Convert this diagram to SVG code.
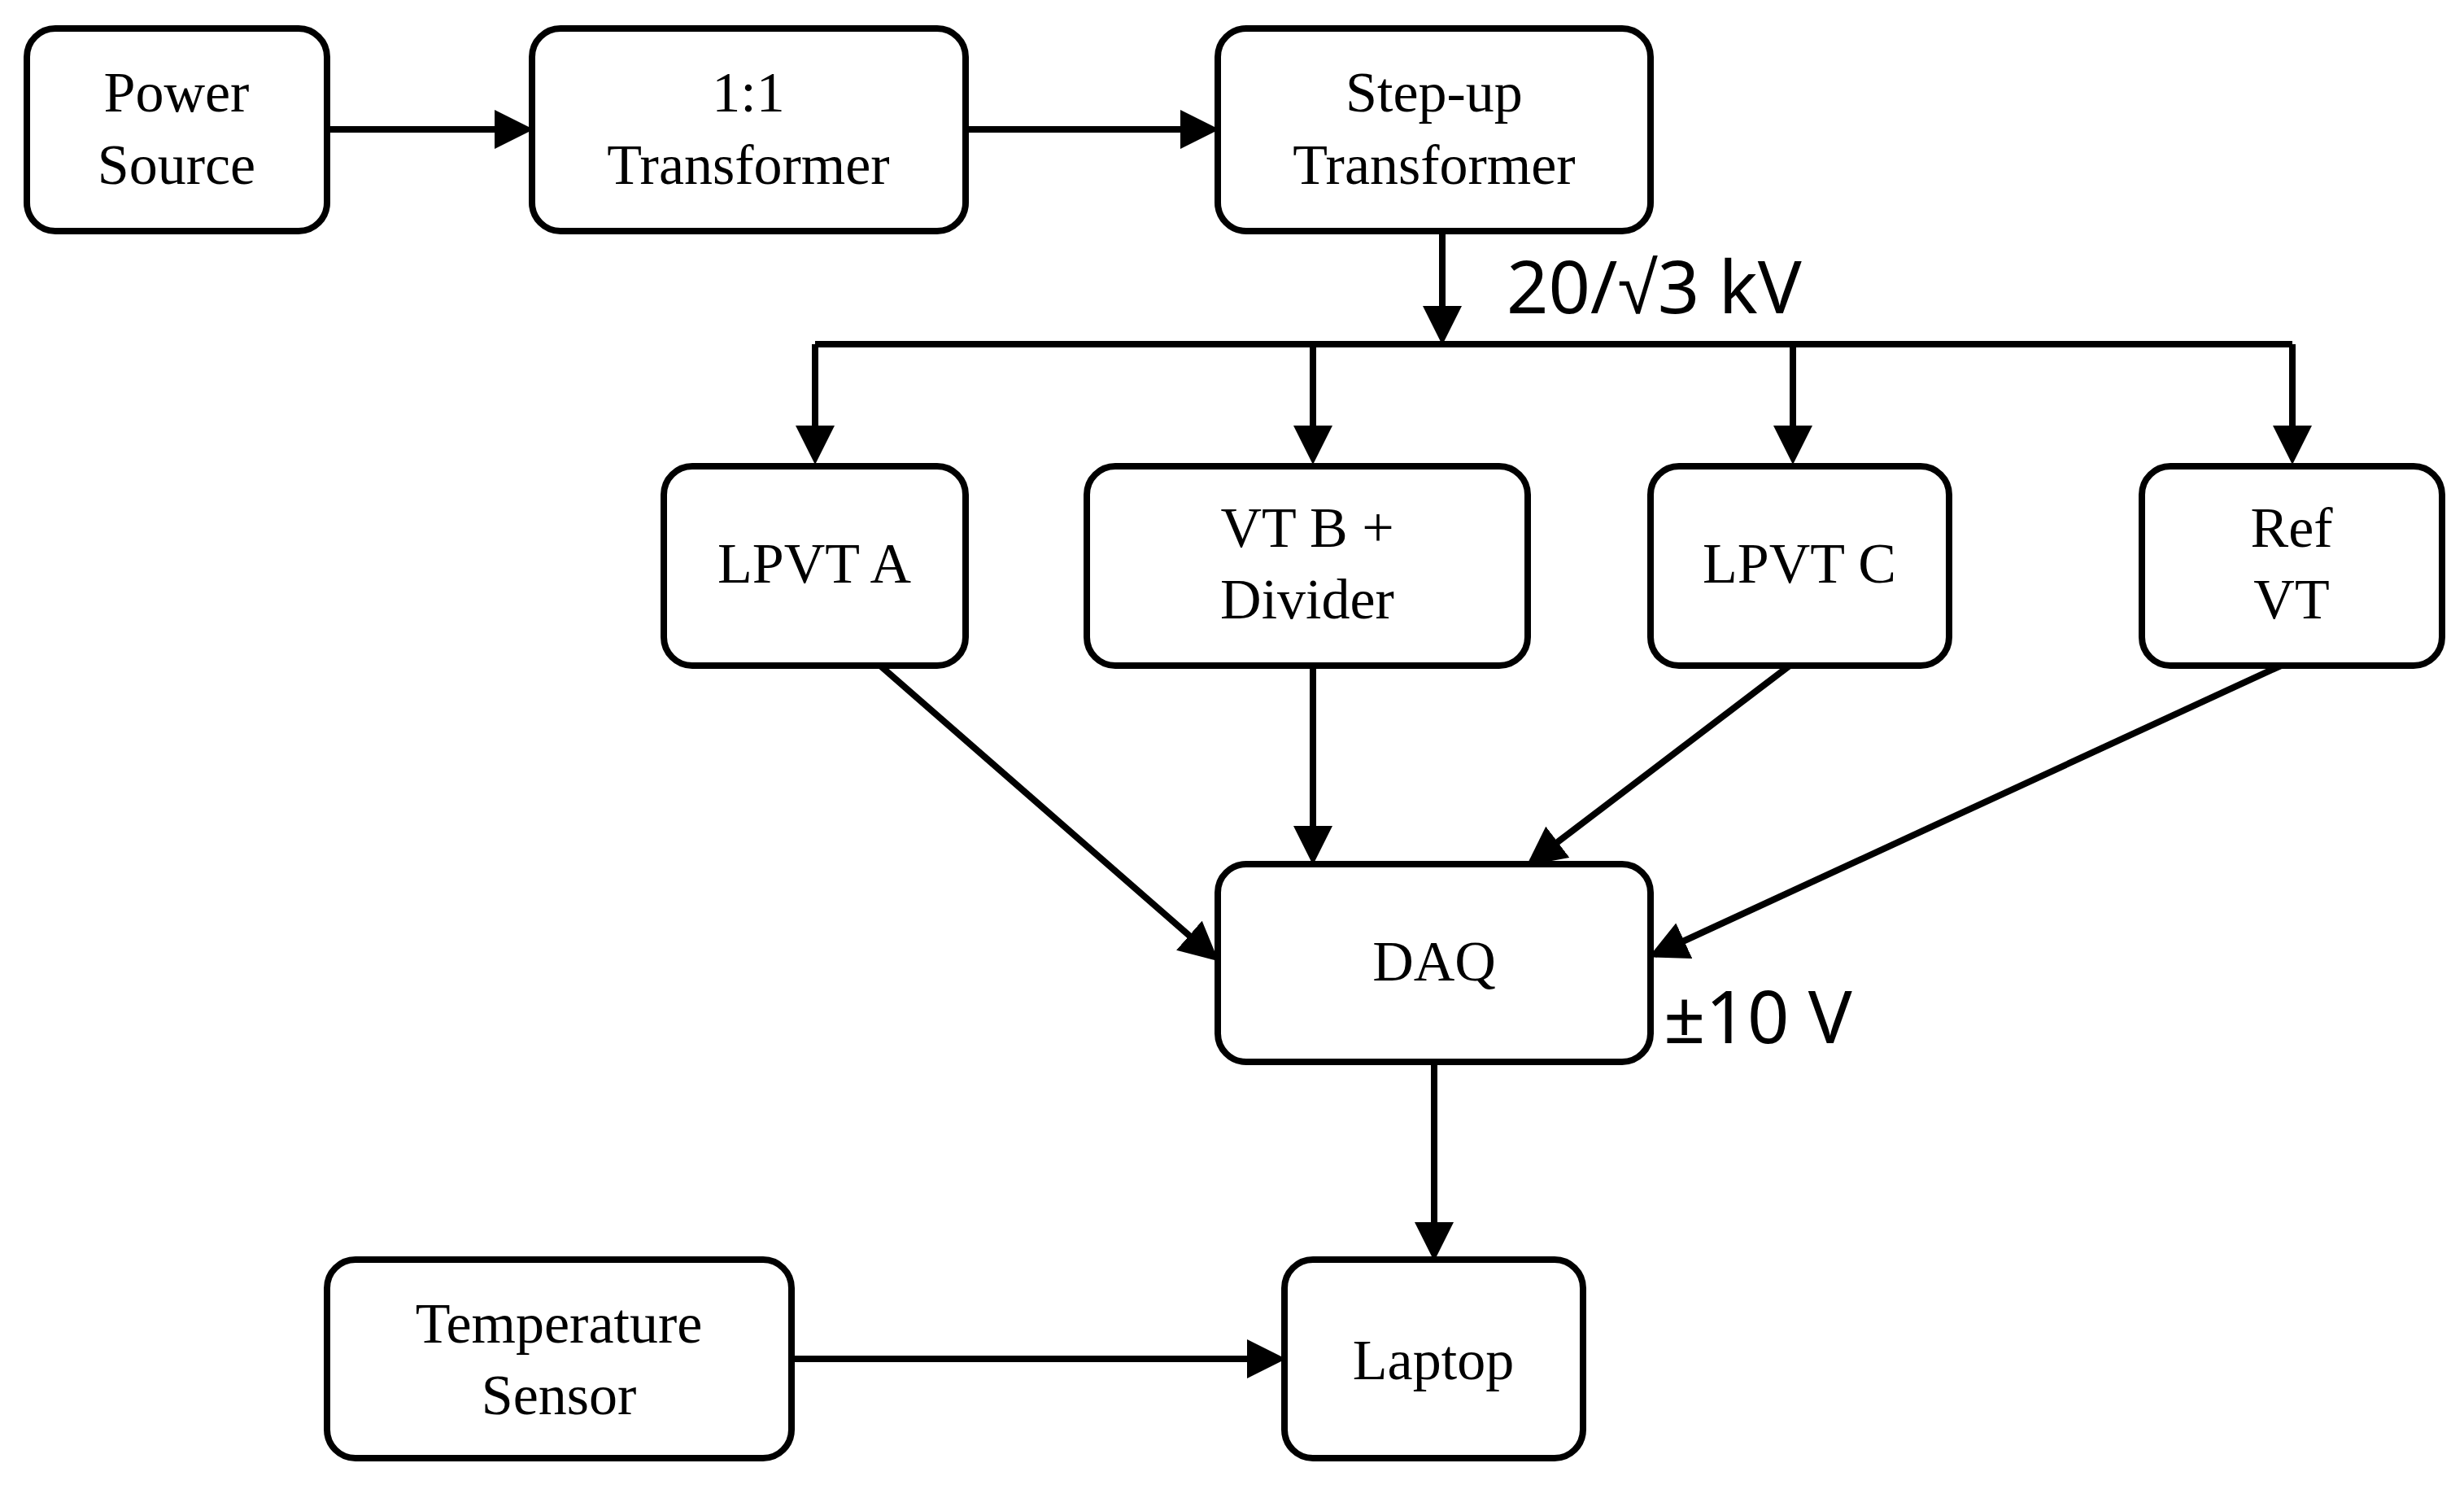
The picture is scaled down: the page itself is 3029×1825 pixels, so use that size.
<svg xmlns="http://www.w3.org/2000/svg" width="3029" height="1825" viewBox="0 0 3029 1825">
<defs>
<style>
.n{fill:#fff;stroke:#000;stroke-width:8}
.t{font-family:"Liberation Serif",serif;font-size:70px;text-anchor:middle;fill:#000}
.c{stroke:#000;stroke-width:8;fill:none}
.l{font-family:"Noto Sans","Liberation Sans",sans-serif;font-size:90px;fill:#000}
</style>
<marker id="a" markerWidth="6" markerHeight="6" refX="5" refY="3" orient="auto" markerUnits="strokeWidth"><path d="M0,0L6,3L0,6z" fill="#000"/></marker>
</defs>
<rect width="3029" height="1825" fill="#fff"/>
<g id="connectors">
<path class="c" d="M402,159H648" marker-end="url(#a)"/>
<path class="c" d="M1187,159H1491" marker-end="url(#a)"/>
<path class="c" d="M1773,284V416" marker-end="url(#a)"/>
<path class="c" d="M1002,423H2818"/>
<path class="c" d="M1002,423V563" marker-end="url(#a)"/>
<path class="c" d="M1614,423V563" marker-end="url(#a)"/>
<path class="c" d="M2204,423V563" marker-end="url(#a)"/>
<path class="c" d="M2818,423V563" marker-end="url(#a)"/>
<path class="c" d="M1082,818L1492,1176" marker-end="url(#a)"/>
<path class="c" d="M1614,818V1055" marker-end="url(#a)"/>
<path class="c" d="M2200,818L1883,1059" marker-end="url(#a)"/>
<path class="c" d="M2804,818L2034,1173" marker-end="url(#a)"/>
<path class="c" d="M1763,1305V1542" marker-end="url(#a)"/>
<path class="c" d="M973,1670H1573" marker-end="url(#a)"/>
</g>
<g id="power"><rect class="n" x="33" y="35" width="369" height="249" rx="35"/><text class="t" x="217" y="137">Power</text><text class="t" x="217" y="226">Source</text></g>
<g id="t11"><rect class="n" x="654" y="35" width="533" height="249" rx="35"/><text class="t" x="920" y="137">1:1</text><text class="t" x="920" y="226">Transformer</text></g>
<g id="stepup"><rect class="n" x="1497" y="35" width="532" height="249" rx="35"/><text class="t" x="1763" y="137">Step-up</text><text class="t" x="1763" y="226">Transformer</text></g>
<g id="lpvta"><rect class="n" x="816" y="573" width="371" height="245" rx="35"/><text class="t" x="1001" y="716">LPVT A</text></g>
<g id="vtb"><rect class="n" x="1336" y="573" width="542" height="245" rx="35"/><text class="t" x="1607" y="672">VT B +</text><text class="t" x="1607" y="760">Divider</text></g>
<g id="lpvtc"><rect class="n" x="2029" y="573" width="367" height="245" rx="35"/><text class="t" x="2212" y="716">LPVT C</text></g>
<g id="ref"><rect class="n" x="2633" y="573" width="369" height="245" rx="35"/><text class="t" x="2817" y="672">Ref</text><text class="t" x="2817" y="760">VT</text></g>
<g id="daq"><rect class="n" x="1497" y="1062" width="532" height="243" rx="35"/><text class="t" x="1763" y="1205">DAQ</text></g>
<g id="temp"><rect class="n" x="402" y="1548" width="571" height="244" rx="35"/><text class="t" x="687" y="1650">Temperature</text><text class="t" x="687" y="1738">Sensor</text></g>
<g id="laptop"><rect class="n" x="1579" y="1548" width="367" height="244" rx="35"/><text class="t" x="1762" y="1695">Laptop</text></g>
<text class="l" x="1852" y="385">20/√3 kV</text>
<text class="l" x="2045" y="1282">±10 V</text>
</svg>
